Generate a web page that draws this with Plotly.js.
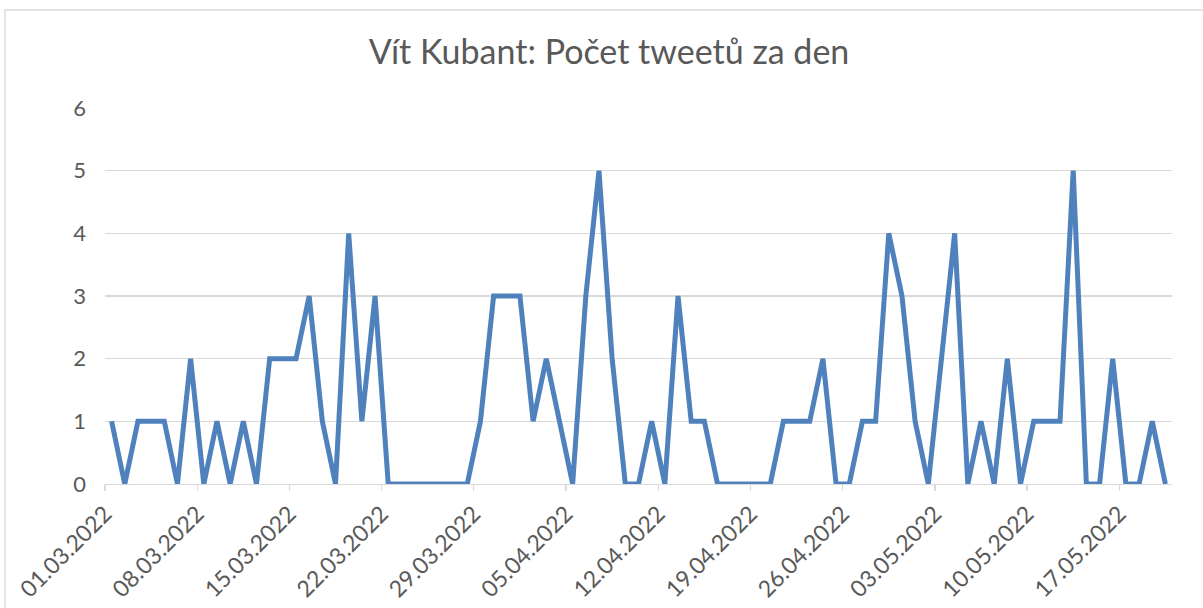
<!DOCTYPE html>
<html>
<head>
<meta charset="utf-8">
<script src="https://cdn.plot.ly/plotly-3.0.1.min.js"></script>
<style>
  html, body { margin: 0; padding: 0; background: #fff; overflow: hidden; }
  #chart { width: 1203px; height: 608px; }
</style>
</head>
<body>
<div id="chart"></div>
<script>
// ---- Data ----
const startDate = "2022-03-01";
const tweetsPerDay = [
  1, 0, 1, 1, 1, 0, 2, 0, 1, 0, 1, 0, 2, 2, 2, 3, 1, 0, 4, 1, 3, 0,
  0, 0, 0, 0, 0, 0, 1, 3, 3, 3, 1, 2, 1, 0, 3, 5, 2, 0, 0, 1, 0, 3,
  1, 1, 0, 0, 0, 0, 0, 1, 1, 1, 2, 0, 0, 1, 1, 4, 3, 1, 0, 2, 4, 0,
  1, 0, 2, 0, 1, 1, 1, 5, 0, 0, 2, 0, 0, 1, 0
];
const tickDates = [
  "2022-03-01", "2022-03-08", "2022-03-15", "2022-03-22", "2022-03-29",
  "2022-04-05", "2022-04-12", "2022-04-19", "2022-04-26", "2022-05-03",
  "2022-05-10", "2022-05-17"
];
const tickLabels = [
  "01.03.2022", "08.03.2022", "15.03.2022", "22.03.2022", "29.03.2022",
  "05.04.2022", "12.04.2022", "19.04.2022", "26.04.2022", "03.05.2022",
  "10.05.2022", "17.05.2022"
];
const chartTitle = "Vít Kubant: Počet tweetů za den";

// dates (each point at the middle of its day)
function dayString(i) {
  const d = new Date(startDate + "T12:00:00Z");
  d.setUTCDate(d.getUTCDate() + i);
  return d.toISOString().slice(0, 10) + " 12:00";
}
const dates = tweetsPerDay.map((_, i) => dayString(i));
function endDay(n) {
  const d = new Date(startDate + "T00:00:00Z");
  d.setUTCDate(d.getUTCDate() + n);
  return d.toISOString().slice(0, 10);
}

const W = 1203, H = 608;
const m = { l: 105, r: 31, t: 108, b: 124 };
const pw = W - m.l - m.r, ph = H - m.t - m.b;
const px = v => (v - m.l) / pw;
const py = v => (H - m.b - v) / ph;

const gridColor = "#D9D9D9";
const textColor = "#595959";
const fontFam = "Lato, 'Open Sans', sans-serif";

const trace = {
  x: dates,
  y: tweetsPerDay,
  type: "scatter",
  mode: "lines",
  line: { color: "#4F81BD", width: 5, shape: "linear" },
  hoverinfo: "x+y",
  cliponaxis: false
};

const layout = {
  width: W, height: H,
  margin: m,
  paper_bgcolor: "#ffffff",
  plot_bgcolor: "#ffffff",
  showlegend: false,
  title: {
    text: chartTitle,
    font: { family: fontFam, size: 34, color: textColor },
    x: 609 / W, xanchor: "center", xref: "container",
    y: 1 - 52 / H, yanchor: "middle", yref: "container"
  },
  xaxis: {
    type: "date",
    range: [startDate, endDay(tweetsPerDay.length)],
    tickmode: "array",
    tickvals: tickDates,
    ticktext: tickLabels,
    tickangle: -45,
    tickfont: { family: fontFam, size: 23, color: textColor },
    ticks: "outside", ticklen: 6, tickwidth: 1.3, tickcolor: gridColor,
    showgrid: false,
    showline: true, linecolor: gridColor, linewidth: 1.3,
    zeroline: false,
    fixedrange: true
  },
  yaxis: {
    range: [0, 6],
    tickvals: [0, 1, 2, 3, 4, 5, 6],
    tickfont: { family: fontFam, size: 22, color: textColor },
    showgrid: true, gridcolor: gridColor, gridwidth: 1.3,
    zeroline: false, showline: false,
    ticks: "", ticklabelstandoff: 18,
    fixedrange: true
  },
  shapes: [
    {
      type: "rect", xref: "paper", yref: "paper", layer: "below",
      x0: px(5), x1: px(W + 20), y0: py(H + 20), y1: py(10),
      line: { color: gridColor, width: 1.3 }, fillcolor: "rgba(0,0,0,0)"
    }
  ]
};

Plotly.newPlot("chart", [trace], layout, { displayModeBar: false, staticPlot: true });
</script>
</body>
</html>
